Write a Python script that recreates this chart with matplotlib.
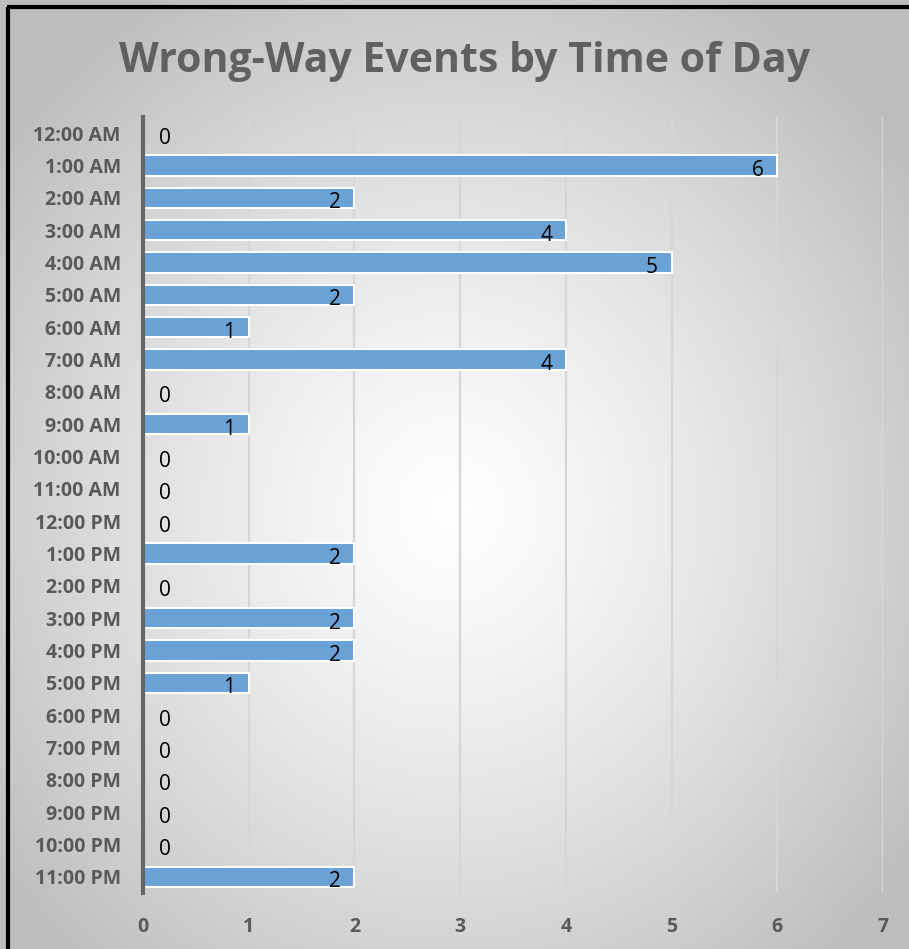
import numpy as np
import matplotlib
matplotlib.use("Agg")
import matplotlib.pyplot as plt
from matplotlib.lines import Line2D

categories = ["12:00 AM", "1:00 AM", "2:00 AM", "3:00 AM", "4:00 AM", "5:00 AM",
              "6:00 AM", "7:00 AM", "8:00 AM", "9:00 AM", "10:00 AM", "11:00 AM",
              "12:00 PM", "1:00 PM", "2:00 PM", "3:00 PM", "4:00 PM", "5:00 PM",
              "6:00 PM", "7:00 PM", "8:00 PM", "9:00 PM", "10:00 PM", "11:00 PM"]
events = [0, 6, 2, 4, 5, 2, 1, 4, 0, 1, 0, 0, 0, 2, 0, 2, 2, 1, 0, 0, 0, 0, 0, 2]
x_ticks = [0, 1, 2, 3, 4, 5, 6, 7]
title = "Wrong-Way Events by Time of Day"

W, H = 909, 949
fig = plt.figure(figsize=(W / 100, H / 100), dpi=100)

# radial gradient background
bg = fig.add_axes([0, 0, 1, 1], zorder=-10)
yy, xx = np.mgrid[0:H, 0:W]
cx, cy = 450, 510
r = np.sqrt(((xx - cx) / 560.0) ** 2 + ((yy - cy) / 600.0) ** 2)
r = np.clip(r, 0, 1)
val = 0.995 - (0.995 - 0.745) * r ** 1.3
img = np.dstack([val, val, val])
bg.imshow(img, aspect="auto", extent=[0, W, H, 0], interpolation="bilinear")
bg.set_xlim(0, W)
bg.set_ylim(H, 0)
bg.axis("off")
# black border (top + left)
bg.add_line(Line2D([8, 8], [7, H], color="black", lw=3, solid_capstyle="butt"))
bg.add_line(Line2D([7, W], [7, 7], color="black", lw=3, solid_capstyle="butt"))

# main axes
left = 143 / W
right = 883 / W
top = 1 - 117 / H
bottom = 1 - 893 / H
ax = fig.add_axes([left, bottom, right - left, top - bottom])
ax.set_facecolor("none")

n = len(categories)
y = np.arange(n)
ax.barh(y, events, height=0.62, color="#6aa2d6", edgecolor="white", linewidth=1.5, zorder=3)
ax.set_xlim(0, 7)
ax.set_ylim(n - 0.5, -0.5)

for xv in x_ticks[1:]:
    ax.axvline(xv, color="#d6d6d6", lw=1.6, zorder=1)

lab_font = dict(fontsize=15, family="Open Sans", color="black", zorder=4)
for i, v in enumerate(events):
    if v == 0:
        ax.text(0.15, i + 0.15, "0", ha="left", va="center", **lab_font)
    else:
        ax.text(v - 0.13, i + 0.15, str(v), ha="right", va="center", **lab_font)

for s in ["top", "right", "bottom"]:
    ax.spines[s].set_visible(False)
ax.spines["left"].set_color("#666666")
ax.spines["left"].set_linewidth(3)
ax.spines["left"].set_zorder(5)

ax.set_yticks(y)
ax.set_yticklabels(categories, fontsize=14, fontweight="bold", family="Open Sans", color="#595959")
ax.set_xticks(x_ticks)
ax.set_xticklabels([str(t) for t in x_ticks], fontsize=14, fontweight="bold", family="Open Sans", color="#595959")
ax.tick_params(axis="both", length=0)
ax.tick_params(axis="y", pad=16)
ax.tick_params(axis="x", pad=17)

fig.text(465 / W, 1 - 61 / H, title, ha="center", va="center", fontsize=29.5,
         fontweight="bold", family="Open Sans", color="#606060")

fig.savefig("out.png", dpi=100)
